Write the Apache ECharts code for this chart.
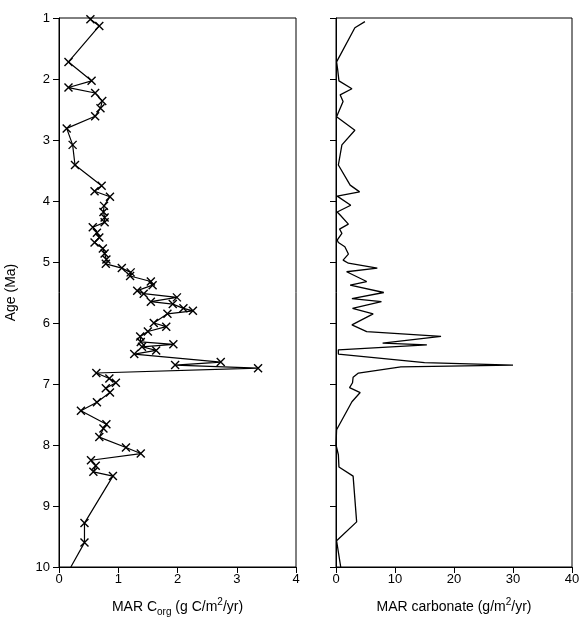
<!DOCTYPE html>
<html>
<head>
<meta charset="utf-8">
<script src="https://cdn.jsdelivr.net/npm/echarts@6/dist/echarts.min.js"></script>
<style>html,body{margin:0;padding:0;background:#fff}#c{width:586px;height:630px}</style>
</head>
<body>
<div id="c"></div>
<script>
// Left panel: MAR Corg (g C/m2/yr) vs Age (Ma)
const corgAge = [1.02,1.13,1.72,2.03,2.14,2.23,2.36,2.48,2.61,2.81,3.08,3.41,3.75,3.84,3.93,4.08,4.18,4.27,4.35,4.43,4.52,4.60,4.68,4.78,4.86,4.96,5.03,5.10,5.17,5.23,5.32,5.38,5.47,5.52,5.58,5.65,5.69,5.76,5.80,5.85,6.00,6.06,6.14,6.22,6.31,6.35,6.39,6.45,6.51,6.64,6.69,6.74,6.82,6.91,6.98,7.07,7.14,7.30,7.44,7.66,7.73,7.87,8.04,8.14,8.25,8.34,8.44,8.51,9.28,9.60,10.0];
const corgMAR = [0.53,0.68,0.16,0.55,0.16,0.61,0.73,0.70,0.61,0.13,0.23,0.27,0.72,0.60,0.86,0.76,0.75,0.77,0.77,0.57,0.64,0.68,0.60,0.74,0.77,0.80,0.79,1.06,1.21,1.20,1.55,1.58,1.32,1.43,1.99,1.55,1.92,2.10,2.26,1.83,1.60,1.81,1.50,1.37,1.38,1.93,1.40,1.64,1.27,2.73,1.96,3.36,0.63,0.85,0.96,0.79,0.86,0.64,0.37,0.80,0.75,0.68,1.13,1.38,0.54,0.62,0.58,0.91,0.43,0.43,0.20];
// Right panel: MAR carbonate (g/m2/yr) vs Age (Ma)
const carbAge = [1.06,1.16,1.72,1.86,2.03,2.16,2.26,2.37,2.62,2.84,3.08,3.41,3.74,3.85,3.92,4.07,4.18,4.23,4.38,4.46,4.53,4.64,4.68,4.75,4.87,4.97,5.02,5.10,5.16,5.32,5.38,5.50,5.60,5.65,5.76,5.85,6.03,6.14,6.22,6.33,6.36,6.44,6.51,6.65,6.69,6.72,6.82,6.89,6.98,7.06,7.14,7.29,7.75,8.00,8.16,8.36,8.51,9.26,9.57,10.0];
const carbMAR = [4.9,3.2,0.1,0.3,0.5,2.7,0.7,1.2,0.1,3.2,1.0,0.4,2.4,4.0,0.2,2.5,0.2,0.7,2.1,0.6,1.0,0.2,0.4,1.5,2.1,1.2,2.1,7.0,1.8,5.2,2.4,8.1,2.7,7.7,2.8,6.3,2.7,5.2,17.8,7.9,15.4,0.4,0.4,15.0,30.0,11.0,3.8,2.9,2.8,2.3,4.1,2.7,0.1,0.0,0.4,0.5,2.9,3.5,0.1,0.8];
const ageTicks = [1,2,3,4,5,6,7,8,9,10];

const FONT = 'Liberation Sans, Arial, Helvetica, sans-serif';
const chart = echarts.init(document.getElementById('c'), null, {renderer:'canvas'});

const corgData = corgAge.map((a,i)=> i === corgAge.length-1 ? {value:[corgMAR[i],a], symbol:'none'} : [corgMAR[i],a]);
const carbData = carbAge.map((a,i)=>[carbMAR[i],a]);

function xAx(idx, max, interval, name){
  return {
    type:'value', gridIndex:idx, min:0, max:max, interval:interval,
    name:name, nameLocation:'middle', nameGap:30,
    nameTextStyle:{color:'#000', fontSize:14, fontFamily:FONT, lineHeight:20,
      rich:{
        sub:{fontSize:10, fontFamily:FONT, color:'#000', lineHeight:10, verticalAlign:'bottom'},
        sup:{fontSize:10, fontFamily:FONT, color:'#000', lineHeight:10, verticalAlign:'top'}
      }},
    axisLine:{show:true, lineStyle:{color:'#000', width:1}},
    axisTick:{show:true, inside:false, length:6, lineStyle:{color:'#000', width:1}},
    axisLabel:{color:'#000', fontSize:13, fontFamily:FONT, margin:6},
    splitLine:{show:false}
  };
}
function yAx(idx, showLabel){
  return {
    type:'value', gridIndex:idx, min:1, max:10, interval:1, inverse:true,
    name: showLabel ? 'Age (Ma)' : '', nameLocation:'middle', nameGap:41, nameRotate:90,
    nameTextStyle:{color:'#000', fontSize:14, fontFamily:FONT},
    axisLine:{show:true, lineStyle:{color:'#000', width:1}},
    axisTick:{show:true, inside:false, length:6, lineStyle:{color:'#000', width:1}},
    axisLabel:{show:showLabel, color:'#000', fontSize:13, fontFamily:FONT, margin:9,
      formatter: v => ageTicks.includes(v) ? String(v) : ''},
    splitLine:{show:false}
  };
}

chart.setOption({
  animation:false,
  backgroundColor:'#fff',
  grid:[
    {left:59, top:18, width:237, height:549, show:true, borderColor:'#000', borderWidth:1, backgroundColor:'transparent'},
    {left:336, top:18, width:236, height:549, show:true, borderColor:'#000', borderWidth:1, backgroundColor:'transparent'}
  ],
  xAxis:[
    xAx(0, 4, 1, 'MAR C{sub|org} (g C/m{sup|2}/yr)'),
    xAx(1, 40, 10, 'MAR carbonate (g/m{sup|2}/yr)')
  ],
  yAxis:[ yAx(0, true), yAx(1, false) ],
  series:[
    {type:'line', xAxisIndex:0, yAxisIndex:0, data:corgData, clip:true,
     symbol:'path://M0,0L10,10M10,0L0,10', symbolSize:8, showAllSymbol:true,
     lineStyle:{color:'#000', width:1.2},
     itemStyle:{color:'#000', borderColor:'#000', borderWidth:1.4}},
    {type:'line', xAxisIndex:1, yAxisIndex:1, data:carbData, clip:true,
     symbol:'none', lineStyle:{color:'#000', width:1.3}}
  ]
});
</script>
</body>
</html>
